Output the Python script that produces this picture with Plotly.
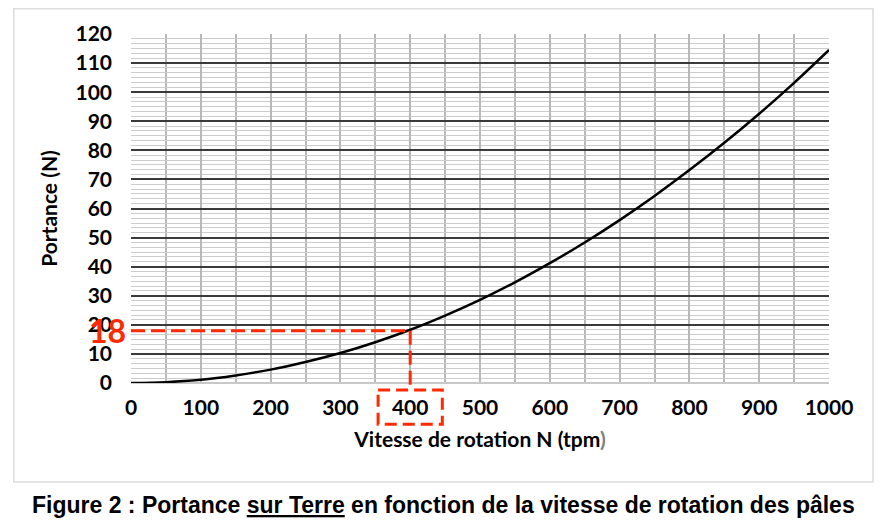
import plotly.graph_objects as go

# vitesse de rotation (tpm) et portance sur Terre (N)
vitesse = [0, 50, 100, 150, 200, 250, 300, 350, 400, 450, 500,
           550, 600, 650, 700, 750, 800, 850, 900, 950, 1000]
portance = [0, 0.3, 1.1, 2.6, 4.6, 7.2, 10.3, 14.0, 18.3, 23.2, 28.6,
            34.6, 41.2, 48.3, 56.0, 64.3, 73.2, 82.6, 92.6, 103.2, 114.5]

x_ticks = [0, 100, 200, 300, 400, 500, 600, 700, 800, 900, 1000]
y_ticks = [0, 10, 20, 30, 40, 50, 60, 70, 80, 90, 100, 110, 120]

n_lu = 400
f_lu = 18

RED = "#ff2a00"
FONT = "Lato"

fig = go.Figure()
fig.add_trace(
    go.Scatter(
        x=vitesse,
        y=portance,
        mode="lines",
        line=dict(color="black", width=2.5, shape="spline"),
        showlegend=False,
        hoverinfo="skip",
    )
)

# lecture graphique en rouge
dash = "14px,6px"
fig.add_shape(type="line", xref="x", yref="y", x0=0, x1=n_lu, y0=f_lu, y1=f_lu,
              line=dict(color=RED, width=3, dash=dash))
fig.add_shape(type="line", xref="x", yref="paper", x0=n_lu, x1=n_lu, y0=f_lu / 120, y1=-0.02,
              line=dict(color=RED, width=3, dash=dash))
fig.add_shape(type="rect", xref="x", yref="paper", x0=n_lu - 46, x1=n_lu + 46, y0=-0.02, y1=-0.118,
              line=dict(color=RED, width=3, dash="12px,6px"))
fig.add_annotation(x=-0.033, y=f_lu, xref="paper", yref="y", text=f"<b>{f_lu}</b>", showarrow=False,
                   font=dict(family=FONT, size=32, color=RED), xanchor="center", yanchor="middle")

# cadre gris autour du graphique
fig.add_shape(type="rect", xref="paper", yref="paper", x0=-0.168, x1=1.063, y0=-0.284, y1=1.072,
              line=dict(color="#dcdcdc", width=1.5), layer="below")

fig.add_annotation(
    x=0.448, y=-0.35, xref="paper", yref="paper", showarrow=False,
    text="<b>Figure 2 : Portance <u>sur Terre</u> en fonction de la vitesse de rotation des pâles</b>",
    font=dict(family="Liberation Sans", size=23, color="black"),
    xanchor="center", yanchor="middle",
)

fig.update_xaxes(
    range=[0, 1000],
    tickvals=x_ticks,
    ticktext=[f"<b>{v}</b>" for v in x_ticks],
    tickfont=dict(family=FONT, size=21, color="black"),
    showgrid=True, gridcolor="#b8b8b8", gridwidth=1.5,
    minor=dict(dtick=50, showgrid=True, gridcolor="#b8b8b8", gridwidth=1.5),
    zeroline=False, showline=False,
    ticks="", ticklabelstandoff=10,
    title=dict(text="<b>Vitesse de rotation N (tpm<span style='color:#808080'>)</span></b>",
               font=dict(family=FONT, size=21, color="black"), standoff=14),
)
fig.update_yaxes(
    range=[0, 120],
    tickvals=y_ticks,
    ticktext=[f"<b>{v}</b>" for v in y_ticks],
    tickfont=dict(family=FONT, size=21, color="black"),
    showgrid=True, gridcolor="#3a3a3a", gridwidth=1.5,
    minor=dict(dtick=10 / 6, showgrid=True, gridcolor="#cccccc", gridwidth=1),
    zeroline=True, zerolinecolor="#c8c8c8", zerolinewidth=1.5,
    showline=False, ticks="", ticklabelstandoff=18,
    title=dict(text="<b>Portance (N)</b>", font=dict(family=FONT, size=21, color="black"), standoff=12),
)

fig.update_layout(
    width=880,
    height=519,
    paper_bgcolor="white",
    plot_bgcolor="white",
    margin=dict(l=123, r=59, t=26, b=144),
    showlegend=False,
)

fig.write_html("out.html")
